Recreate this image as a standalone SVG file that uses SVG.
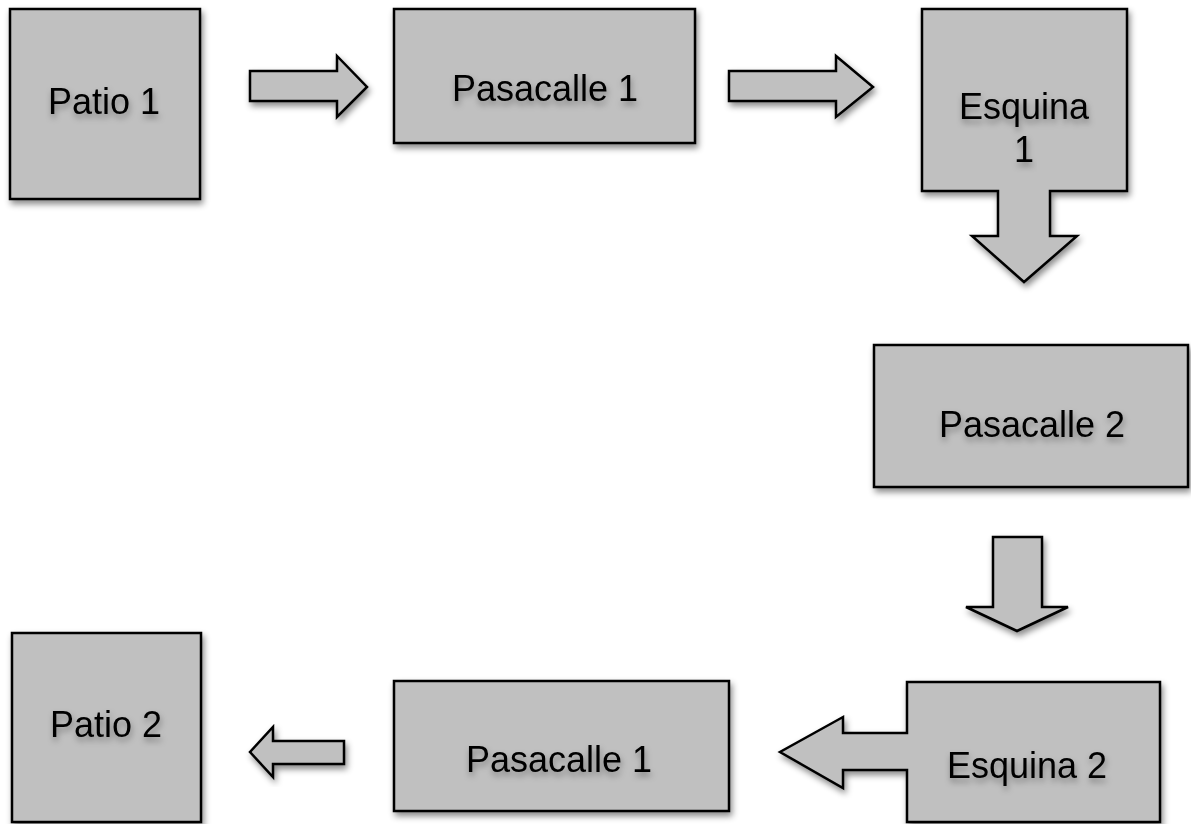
<svg xmlns="http://www.w3.org/2000/svg" width="1191" height="824" viewBox="0 0 1191 824">
<defs>
<filter id="sh" x="-10%" y="-10%" width="130%" height="130%">
<feDropShadow dx="2" dy="4" stdDeviation="3" flood-color="#000" flood-opacity="0.45"/>
</filter>
<filter id="tsh" x="-10%" y="-30%" width="120%" height="180%">
<feDropShadow dx="1" dy="4" stdDeviation="3" flood-color="#000" flood-opacity="0.35"/>
</filter>
</defs>
<style>
.box{fill:#c0c0c0;stroke:#000;stroke-width:2.5;filter:url(#sh)}
.arr{fill:#c0c0c0;stroke:#000;stroke-width:2.5;stroke-linejoin:miter;filter:url(#sh)}
.lbl{font-family:"Liberation Sans",Arial,sans-serif;font-size:36px;fill:#000;text-anchor:middle;filter:url(#tsh)}
</style>
<rect width="1191" height="824" fill="#fff"/>
<g id="connectors">
<path class="arr" d="M250,71 H337 V56 L367,87 L337,117 V101 H250 Z"/>
<path class="arr" d="M729,71 H836 V56 L873,87 L836,117 V101 H729 Z"/>
<path class="arr" d="M993,537 H1042 V607 H1068 L1017,631 L966,607 H993 Z"/>
<path class="arr" d="M344,741 H273 V727 L250,752 L273,777 V764 H344 Z"/>
</g>
<g id="patio1">
<rect class="box" x="10" y="9" width="190" height="190"/>
<text class="lbl" x="104" y="114">Patio 1</text>
</g>
<g id="pasacalle1-top">
<rect class="box" x="394" y="9" width="301" height="134"/>
<text class="lbl" x="545" y="101">Pasacalle 1</text>
</g>
<g id="esquina1">
<path class="box" d="M922,9 H1127 V191 H1050 V236 H1077 L1024,282 L972,236 H998 V191 H922 Z"/>
<text class="lbl" x="1024" y="119">Esquina</text>
<text class="lbl" x="1024" y="162">1</text>
</g>
<g id="pasacalle2">
<rect class="box" x="874" y="345" width="314" height="142"/>
<text class="lbl" x="1032" y="437">Pasacalle 2</text>
</g>
<g id="esquina2">
<path class="box" d="M907,682 H1160 V822 H907 V770 H843 V788 L780,752 L843,717 V733 H907 Z"/>
<text class="lbl" x="1027" y="778">Esquina 2</text>
</g>
<g id="pasacalle1-bottom">
<rect class="box" x="394" y="681" width="335" height="130"/>
<text class="lbl" x="559" y="772">Pasacalle 1</text>
</g>
<g id="patio2">
<rect class="box" x="12" y="633" width="189" height="189"/>
<text class="lbl" x="106" y="737">Patio 2</text>
</g>
</svg>
